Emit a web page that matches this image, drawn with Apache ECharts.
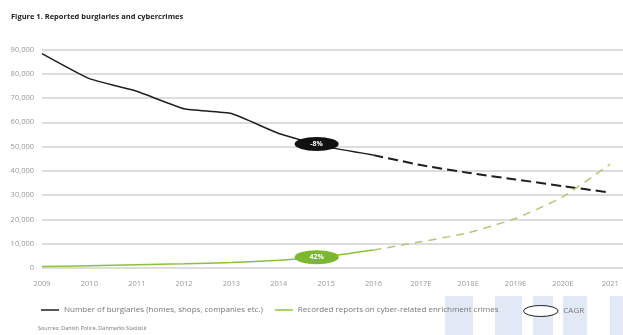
<!DOCTYPE html>
<html>
<head>
<meta charset="utf-8">
<script src="https://cdn.jsdelivr.net/npm/echarts@6/dist/echarts.min.js"></script>
<style>
  html, body { margin: 0; padding: 0; background: #fff; }
  #chart { width: 623px; height: 335px; }
</style>
</head>
<body>
<div id="chart"></div>
<script>
// 数据
var years = ['2009', '2010', '2011', '2012', '2013', '2014', '2015', '2016', '2017E', '2018E', '2019E', '2020E', '2021'];
var burglaryActual = [88300, 78000, 72800, 65600, 63600, 55400, 50000, 46500];      // 2009-2016
var burglaryForecast = [46500, 42400, 39200, 36500, 33700, 31100];                  // 2016-2021
var cyberActual = [600, 900, 1300, 1700, 2300, 3200, 4700, 7400];                   // 2009-2016
var cyberForecast = [7400, 10800, 14500, 20400, 29300, 42800];                      // 2016-2021
var cagrLabels = ['-8%', '42%'];
var cagrAt = 2014.8;

var firstYear = 2009, forecastStart = 2016;
var nameBurg = 'Number of burglaries (homes, shops, companies etc.)';
var nameCyber = 'Recorded reports on cyber-related enrichment crimes';
var ellipse = 'path://M0,7A22,7 0 1,1 44,7A22,7 0 1,1 0,7Z';

function pairs(values, start) {
  return values.map(function (v, i) { return [start + i, v]; });
}
// 在折线上插值，求标注位置
function valueAt(values, start, x) {
  var i = Math.floor(x - start), t = x - start - i;
  return values[i] + (values[i + 1] - values[i]) * t;
}

var myChart = echarts.init(document.getElementById('chart'));
var font = "'Open Sans', 'Noto Sans', sans-serif";

var option = {
  animation: false,
  textStyle: { fontFamily: font },
  title: {
    text: 'Figure 1. Reported burglaries and cybercrimes',
    left: 6, top: 8,
    textStyle: { fontSize: 7.5, fontWeight: 'bold', color: '#222', fontFamily: font }
  },
  grid: { left: 42, right: 0, top: 49.5, bottom: 67 },
  legend: [{
    left: 36, top: 301, padding: 5,
    itemWidth: 18, itemHeight: 1.5, itemGap: 12,
    textStyle: { fontSize: 8, color: '#777', fontFamily: font },
    data: [
      { name: nameBurg, icon: 'rect' },
      { name: nameCyber, icon: 'rect' }
    ]
  }, {
    left: 518, top: 300, padding: 5,
    itemWidth: 35, itemHeight: 11,
    textStyle: { fontSize: 8, color: '#777', fontFamily: font },
    data: [{
      name: 'CAGR',
      icon: ellipse,
      itemStyle: { color: '#fff', borderColor: '#222', borderWidth: 1 }
    }]
  }],
  xAxis: {
    type: 'value',
    min: firstYear, max: 2021.27, interval: 1,
    axisLine: { show: false },
    axisTick: { show: false },
    splitLine: { show: false },
    axisLabel: {
      color: '#999', fontSize: 7.5, margin: 12, fontFamily: font,
      showMaxLabel: false,
      formatter: function (v) {
        return Number.isInteger(v) ? years[v - firstYear] : '';
      }
    }
  },
  yAxis: {
    type: 'value',
    min: 0, max: 90000, interval: 10000,
    axisLine: { show: false },
    axisTick: { show: false },
    splitLine: { lineStyle: { color: '#d2d2d2', width: 1.5 } },
    axisLabel: {
      color: '#999', fontSize: 7.5, margin: 8, fontFamily: font,
      formatter: function (v) { return v.toLocaleString('en-US'); }
    }
  },
  series: [{
    name: nameBurg, type: 'line', symbol: 'none', smooth: 0.15,
    color: '#1e1e1e',
    lineStyle: { color: '#1e1e1e', width: 1.5 },
    data: pairs(burglaryActual, firstYear),
    markPoint: {
      symbol: ellipse, symbolSize: [44, 14],
      itemStyle: { color: '#111' },
      label: { show: true, color: '#fff', fontSize: 7, fontWeight: 'bold', formatter: cagrLabels[0] },
      data: [{ coord: [cagrAt, valueAt(burglaryActual, firstYear, cagrAt)] }]
    }
  }, {
    name: nameBurg, type: 'line', symbol: 'none', smooth: 0.15,
    lineStyle: { color: '#1e1e1e', width: 2, type: [10, 5] },
    data: pairs(burglaryForecast, forecastStart)
  }, {
    name: nameCyber, type: 'line', symbol: 'none', smooth: 0.15,
    color: '#8cbf3f',
    lineStyle: { color: '#8cbf3f', width: 1.5 },
    data: pairs(cyberActual, firstYear),
    markPoint: {
      symbol: ellipse, symbolSize: [44, 14],
      itemStyle: { color: '#7cb82f' },
      label: { show: true, color: '#fff', fontSize: 7, fontWeight: 'bold', formatter: cagrLabels[1] },
      data: [{ coord: [cagrAt, valueAt(cyberActual, firstYear, cagrAt)] }]
    }
  }, {
    name: nameCyber, type: 'line', symbol: 'none', smooth: 0.15,
    lineStyle: { color: '#b3c876', width: 1.5, type: [8, 6] },
    data: pairs(cyberForecast, forecastStart)
  }, {
    name: 'CAGR', type: 'line', data: []
  }],
  graphic: [
    {
      type: 'text', left: 38, top: 325,
      style: { text: 'Sources: Danish Police, Danmarks Statistik', fontSize: 5.5, fill: '#777', fontFamily: font }
    },
    // 右下角浅蓝色背景块
    { type: 'rect', shape: { x: 445, y: 296, width: 28, height: 39 }, style: { fill: '#e1e9f4' }, z: -1 },
    { type: 'rect', shape: { x: 495, y: 296, width: 27, height: 39 }, style: { fill: '#e1e9f4' }, z: -1 },
    { type: 'rect', shape: { x: 533, y: 296, width: 20, height: 39 }, style: { fill: '#e1e9f4' }, z: -1 },
    { type: 'rect', shape: { x: 563, y: 296, width: 24, height: 39 }, style: { fill: '#e1e9f4' }, z: -1 },
    { type: 'rect', shape: { x: 610, y: 296, width: 13, height: 39 }, style: { fill: '#e1e9f4' }, z: -1 }
  ]
};
myChart.setOption(option);
</script>
</body>
</html>
